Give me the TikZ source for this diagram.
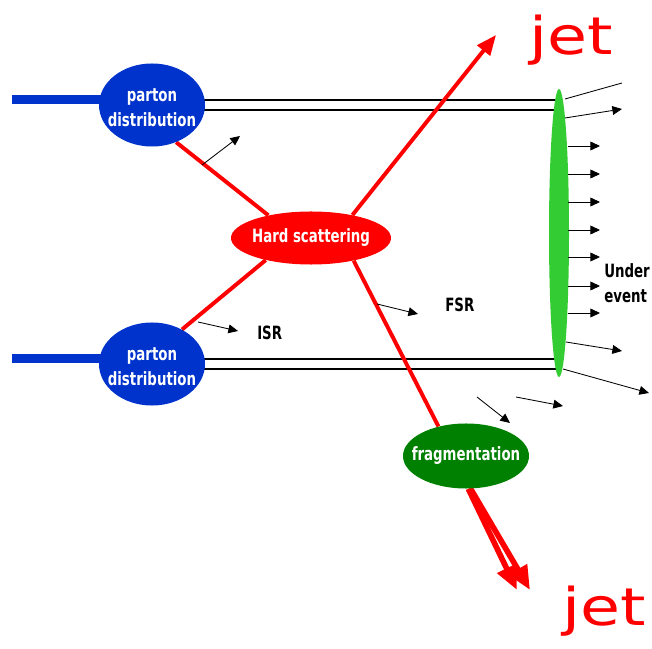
\documentclass[tikz,border=0pt]{standalone}
\usepackage{fontspec}
\newfontfamily\labfont[FakeStretch=0.73]{DejaVu Sans}
\newfontfamily\jetfont[FakeStretch=1.25]{DejaVu Sans}
\usepackage{xcolor}
\usepackage{tikz}
\usetikzlibrary{arrows.meta,shapes.geometric,backgrounds}
\definecolor{pdblue}{RGB}{0,51,204}
\definecolor{fraggreen}{RGB}{0,128,0}
\definecolor{uegreen}{RGB}{51,204,51}

\begin{document}
\begin{tikzpicture}[x=0.025cm, y=-0.025cm,
  blob/.style={ellipse, inner sep=0pt},
  blabel/.style={inner sep=0pt, text=white, align=center, font=\labfont\bfseries\fontsize{13}{18}\selectfont},
  lab/.style={inner sep=0pt, align=left, font=\labfont\bfseries\fontsize{13}{18}\selectfont},
  jetlab/.style={inner sep=0pt, text=red, font=\jetfont\fontsize{37}{37}\selectfont},
  beam/.style={line width=6.4pt, pdblue},
  rail/.style={line width=0.8pt, double=white, double distance=0.22cm},
  parton/.style={line width=2.8pt, red},
  jetarr/.style={line width=2.8pt, red, -{Triangle[length=5mm,width=4mm]}},
  fragarr/.style={line width=4pt, red, -{Triangle[length=6mm,width=5mm]}},
  rad/.style={line width=0.6pt, -{Triangle[length=2.4mm,width=2.2mm]}}]
\useasboundingbox (0,0) rectangle (652,649);
% Blobs
\node[blob, fill=pdblue, minimum width=2.65cm, minimum height=2.075cm] (pdtop) at (152,105) {};
\node[blob, fill=pdblue, minimum width=2.65cm, minimum height=2.075cm] (pdbot) at (152,364) {};
\node[blob, fill=red, minimum width=4cm, minimum height=1.325cm] (hs) at (311,238) {};
\node[blob, fill=fraggreen, minimum width=3.15cm, minimum height=1.625cm] (frag) at (466,456) {};
\node[blob, fill=uegreen, minimum width=0.5cm, minimum height=7.2cm] (ue) at (559,233) {};
\node[blabel] (pdtoptxt) at (152,108) {parton\\distribution};
\node[blabel] (pdbottxt) at (152,367) {parton\\distribution};
\node[blabel] (hstxt) at (311,238) {Hard scattering};
\node[blabel] (fragtxt) at (466,456) {fragmentation};
% Beams, remnants and partons
\begin{pgfonlayer}{background}
\coordinate (intop) at (12,100);
\coordinate (inbot) at (12,359);
\draw[beam] (intop) -- (intop -| pdtop.center);
\draw[beam] (inbot) -- (inbot -| pdbot.center);
\draw[rail] (pdtop.center) -- (pdtop.center -| ue.center);
\draw[rail] (pdbot.center) -- (pdbot.center -| ue.center);
\draw[parton] (pdtop.-57) -- (hs.152);
\draw[parton] (pdbot.49) -- (hs.206);
\draw[parton] (hs.-28) -- (frag.133);
\coordinate (jettop) at (496,35);
\draw[jetarr] (hs.29) -- (jettop);
\coordinate (jetbotA) at (517,590);
\coordinate (jetbotB) at (530,590);
\draw[fragarr] (frag.-86) -- (jetbotA);
\draw[fragarr] (frag.-82) -- (jetbotB);
\end{pgfonlayer}
% Radiation
\coordinate (r1s) at (202,165); \coordinate (r1e) at (240,136);
\coordinate (isrs) at (198,322); \coordinate (isre) at (238,331);
\coordinate (fsrs) at (377,304); \coordinate (fsre) at (418,314);
\coordinate (r2s) at (477,397); \coordinate (r2e) at (510,423);
\coordinate (r3s) at (516,397); \coordinate (r3e) at (563,406);
\draw[rad] (r1s) -- (r1e);
\draw[rad] (isrs) -- (isre);
\draw[rad] (fsrs) -- (fsre);
\draw[rad] (r2s) -- (r2e);
\draw[rad] (r3s) -- (r3e);
% Underlying event
\coordinate (uoAs) at (565,99); \coordinate (uoAe) at (622,83);
\coordinate (uoBs) at (565,118); \coordinate (uoBe) at (622,109);
\coordinate (uoCs) at (566,342); \coordinate (uoCe) at (622,351);
\coordinate (uoDs) at (563,369); \coordinate (uoDe) at (649,393);
\draw[line width=0.6pt] (uoAs) -- (uoAe);
\draw[rad] (uoBs) -- (uoBe);
\draw[rad] (uoCs) -- (uoCe);
\draw[rad] (uoDs) -- (uoDe);
\foreach \y [count=\i] in {146,174,202,230,257,286,313}{
  \coordinate (uo\i) at (568,\y);
  \draw[rad] (uo\i) -- ++(32,0);
}
% Labels
\node[lab, anchor=west] (isr) at (257,333) {ISR};
\node[lab, anchor=west] (fsr) at (445,305) {FSR};
\node[lab, anchor=west] (under) at (604,283) {Under\\event};
\node[jetlab, anchor=base west] (jet1) at (529,55) {jet};
\node[jetlab, anchor=base west] (jet2) at (562,625) {jet};
\end{tikzpicture}
\end{document}
